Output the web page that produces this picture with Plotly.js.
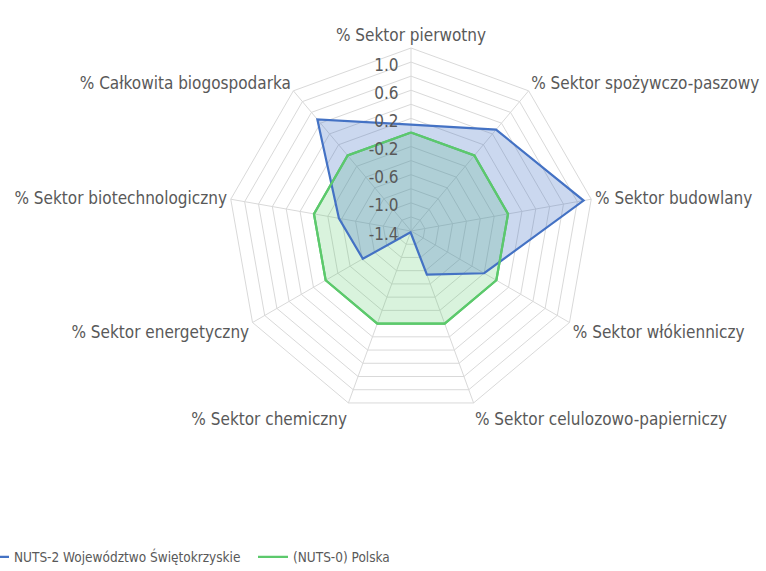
<!DOCTYPE html>
<html>
<head>
<meta charset="utf-8">
<script src="https://cdn.plot.ly/plotly-3.0.1.min.js"></script>
<style>html,body{margin:0;padding:0;background:#fff;}#chart{width:766px;height:571px;}</style>
</head>
<body>
<div id="chart"></div>
<script>
const categories = [
  "% Sektor pierwotny",
  "% Sektor spożywczo-paszowy",
  "% Sektor budowlany",
  "% Sektor włókienniczy",
  "% Sektor celulozowo-papierniczy",
  "% Sektor chemiczny",
  "% Sektor energetyczny",
  "% Sektor biotechnologiczny",
  "% Całkowita biogospodarka"
];
const seriesNames = ["NUTS-2 Województwo Świętokrzyskie", "(NUTS-0) Polska"];
const swietokrzyskie = [0.11, 0.48, 1.09, -0.2, -0.74, -1.38, -0.61, -0.36, 0.67];
const polska = [0, 0, 0, 0, 0, 0, 0, 0, 0];
const radialTickVals = [-1.4,-1.2,-1.0,-0.8,-0.6,-0.4,-0.2,0,0.2,0.4,0.6,0.8,1.0,1.2];
const radialTickText = ["-1.4","","-1.0","","-0.6","","-0.2","","0.2","","0.6","","1.0",""];

const FONT = "'Liberation Sans Narrow', 'DejaVu Sans Condensed', 'Roboto', sans-serif";
const close = a => a.concat([a[0]]);
const thetaC = close(categories);

const traces = [
  {
    type: "scatterpolar", name: seriesNames[1], showlegend: false,
    r: close(polska), theta: thetaC, mode: "none", fill: "toself",
    fillcolor: "rgba(84,201,102,0.22)", hoverinfo: "skip"
  },
  {
    type: "scatterpolar", name: seriesNames[1], showlegend: false,
    r: close(polska), theta: thetaC, mode: "lines",
    line: {color: "#5cc96c", width: 2.2}
  },
  {
    type: "scatterpolar", name: seriesNames[0], showlegend: false,
    r: close(swietokrzyskie), theta: thetaC, mode: "none", fill: "toself",
    fillcolor: "rgba(68,114,196,0.28)", hoverinfo: "skip"
  },
  {
    type: "scatterpolar", name: seriesNames[0], showlegend: true, legendrank: 1,
    r: close(swietokrzyskie), theta: thetaC, mode: "lines",
    line: {color: "#4472c4", width: 2.2}
  },
  {
    type: "scatterpolar", name: seriesNames[1], showlegend: true, legendrank: 2,
    r: close(polska), theta: thetaC, mode: "lines",
    line: {color: "#5cc96c", width: 2.2}
  }
];

const PH = 531; // plot-area height (571 - bottom margin 40)
const layout = {
  width: 766, height: 571,
  margin: {l: 0, r: 0, t: 0, b: 40, autoexpand: false},
  paper_bgcolor: "#fff",
  font: {family: FONT, size: 17, color: "#595959"},
  showlegend: true,
  legend: {
    orientation: "h", x: -26/766, xanchor: "left", y: (14 - 40)/PH, yanchor: "middle",
    font: {family: FONT, size: 13.5, color: "#595959"},
    entrywidth: 234, entrywidthmode: "pixels"
  },
  polar: {
    domain: {x: [228/766, 594/766], y: [(PH - 414)/PH, (PH - 48)/PH]},
    bgcolor: "rgba(0,0,0,0)",
    gridshape: "linear",
    radialaxis: {
      range: [-1.4, 1.2], angle: 90, side: "counterclockwise",
      tickvals: radialTickVals, ticktext: radialTickText,
      showline: false, ticks: "", gridcolor: "#d9d9d9", gridwidth: 1,
      tickfont: {family: FONT, size: 17, color: "#595959"}
    },
    angularaxis: {
      type: "category", categoryarray: categories,
      rotation: 90, direction: "clockwise",
      linecolor: "#d9d9d9", linewidth: 1, gridcolor: "#d9d9d9",
      ticks: "", tickfont: {family: FONT, size: 17, color: "#595959"}
    }
  }
};

Plotly.newPlot("chart", traces, layout, {displayModeBar: false});
</script>
</body>
</html>
